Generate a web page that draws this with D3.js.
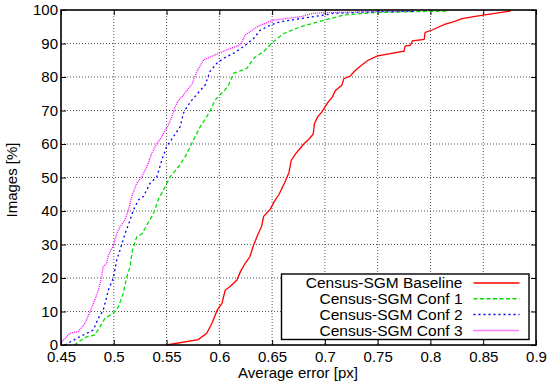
<!DOCTYPE html>
<html>
<head>
<meta charset="utf-8">
<script src="https://cdn.jsdelivr.net/npm/d3@7"></script>
<style>
  body { margin: 0; background: #fff; }
  svg { display: block; font-family: "Liberation Sans", Arial, sans-serif; }
</style>
</head>
<body>
<div id="chart"></div>
<script>
// x = average error [px], y = images [%]
const baselineX = [0.550, 0.580, 0.588, 0.593, 0.598, 0.6025, 0.604, 0.6056, 0.610, 0.6167, 0.620, 0.6245, 0.629, 0.632, 0.6357, 0.640, 0.642, 0.648, 0.653, 0.6566, 0.662, 0.666, 0.668, 0.672, 0.676, 0.680, 0.685, 0.689, 0.690, 0.693, 0.697, 0.700, 0.703, 0.707, 0.710, 0.716, 0.718, 0.724, 0.729, 0.735, 0.741, 0.750, 0.775, 0.776, 0.781, 0.783, 0.794, 0.795, 0.802, 0.814, 0.821, 0.830, 0.841, 0.850, 0.876];
const baselineY = [0, 1.6, 3.5, 6.5, 10.4, 12.4, 14.4, 16.4, 17.4, 19.4, 21.9, 24.4, 26.4, 29.4, 32.4, 35.4, 38.4, 40.4, 43.3, 45, 48.5, 51.5, 55, 57, 58.5, 60, 61.5, 63, 66, 68, 69.5, 71, 72.5, 74, 76, 77.5, 79.5, 80.3, 82, 83.6, 85, 86.3, 87.7, 89.2, 89.5, 90.8, 91.2, 93.3, 94.1, 95.8, 96.4, 97.4, 98, 98.5, 99.7];

const conf1X = [0.4625, 0.4728, 0.482, 0.487, 0.4917, 0.4997, 0.5044, 0.509, 0.512, 0.5155, 0.5177, 0.5218, 0.527, 0.5313, 0.536, 0.539, 0.542, 0.5487, 0.5534, 0.5613, 0.5677, 0.5724, 0.5771, 0.582, 0.588, 0.5914, 0.596, 0.600, 0.605, 0.6087, 0.6135, 0.6262, 0.6325, 0.642, 0.650, 0.661, 0.669, 0.677, 0.700, 0.718, 0.750, 0.817];
const conf1Y = [0, 2.3, 3, 5.5, 8, 9.5, 11.4, 15.4, 20, 23.4, 28.4, 32.3, 33.3, 35.8, 38.3, 40.3, 43.3, 47.3, 50.2, 53.2, 56.2, 59.2, 62.2, 65.2, 68.1, 70, 73.1, 74.5, 76, 77.6, 81.1, 82.6, 85.6, 87.6, 90.2, 93, 94, 95, 97, 98.5, 99.3, 99.7];

const conf2X = [0.4538, 0.465, 0.4744, 0.4807, 0.4854, 0.490, 0.4949, 0.4996, 0.5028, 0.506, 0.5107, 0.5155, 0.5186, 0.5233, 0.528, 0.5344, 0.5408, 0.5455, 0.550, 0.5566, 0.5629, 0.566, 0.5693, 0.574, 0.582, 0.5866, 0.591, 0.5977, 0.604, 0.6135, 0.623, 0.6325, 0.6388, 0.6483, 0.6578, 0.6736, 0.700, 0.708, 0.750, 0.785];
const conf2Y = [0, 2, 3.5, 4.5, 8, 10.4, 16.4, 20, 25.4, 28.4, 33.3, 37.3, 40.3, 43.3, 44.3, 48.3, 50.2, 55.2, 59.2, 62.2, 65.2, 69.2, 71.1, 73.1, 76, 77.6, 81.6, 84.1, 85.6, 87.1, 89.1, 91.5, 94, 95.5, 96.5, 97.3, 98.5, 99, 99.5, 99.6];

const conf3X = [0.4507, 0.4585, 0.4664, 0.4728, 0.4775, 0.482, 0.4854, 0.4886, 0.490, 0.4933, 0.4949, 0.4996, 0.5028, 0.506, 0.5107, 0.5139, 0.517, 0.5218, 0.5265, 0.5313, 0.536, 0.541, 0.5455, 0.5487, 0.5518, 0.555, 0.5582, 0.5613, 0.5645, 0.5708, 0.574, 0.5787, 0.585, 0.596, 0.6072, 0.6198, 0.6245, 0.6357, 0.6514, 0.6641, 0.677, 0.689, 0.700, 0.750, 0.781];
const conf3Y = [1, 3.5, 4, 6.5, 10, 13.4, 16.4, 20.4, 23.4, 24.4, 26.9, 29.6, 33.3, 35.3, 37.5, 40.3, 44.3, 48.3, 50.2, 53.2, 57.2, 60.2, 62.2, 64.2, 65.7, 68.1, 71.1, 73.1, 74, 76.6, 77.8, 81.6, 85.1, 86.6, 88.1, 89.6, 92.5, 95, 97, 97.5, 98, 99, 99.2, 99.5, 99.6];

const seriesNames = ["Census-SGM Baseline", "Census-SGM Conf 1", "Census-SGM Conf 2", "Census-SGM Conf 3"];
const xTicks = [0.45, 0.5, 0.55, 0.6, 0.65, 0.7, 0.75, 0.8, 0.85, 0.9];
const yTicks = [0, 10, 20, 30, 40, 50, 60, 70, 80, 90, 100];

const series = [
  { name: seriesNames[0], xs: baselineX, ys: baselineY, color: "#ff0000", dash: null },
  { name: seriesNames[1], xs: conf1X, ys: conf1Y, color: "#00e000", dash: "4,2.5" },
  { name: seriesNames[2], xs: conf2X, ys: conf2Y, color: "#0000ff", dash: "2,3" },
  { name: seriesNames[3], xs: conf3X, ys: conf3Y, color: "#ff00ff", dash: "1,1" }
];

const W = 550, H = 384;
const margin = { top: 10, right: 14, bottom: 39, left: 61 };
const width = W - margin.left - margin.right;
const height = H - margin.top - margin.bottom;

const svg = d3.select('#chart').append('svg')
  .attr('width', W)
  .attr('height', H);

const g = svg.append('g')
  .attr('transform', `translate(${margin.left},${margin.top})`);

const x = d3.scaleLinear().domain([0.45, 0.9]).range([0, width]);
const y = d3.scaleLinear().domain([0, 100]).range([height, 0]);

// grid
g.append('g').selectAll('line.gx')
  .data(xTicks.slice(1, -1))
  .join('line')
  .attr('x1', d => x(d)).attr('x2', d => x(d))
  .attr('y1', 0).attr('y2', height)
  .attr('stroke', '#555')
  .attr('stroke-width', 1)
  .attr('stroke-dasharray', '1,2');

g.append('g').selectAll('line.gy')
  .data(yTicks.slice(1, -1))
  .join('line')
  .attr('x1', 0).attr('x2', width)
  .attr('y1', d => y(d)).attr('y2', d => y(d))
  .attr('stroke', '#555')
  .attr('stroke-width', 1)
  .attr('stroke-dasharray', '1,2');

// axes (ticks inward, mirrored)
const fmtX = d => String(+d.toFixed(2));
const xAxis = g.append('g')
  .attr('transform', `translate(0,${height})`)
  .call(d3.axisBottom(x).tickValues(xTicks).tickFormat(fmtX).tickSizeInner(-5).tickSizeOuter(0).tickPadding(6));
const yAxis = g.append('g')
  .call(d3.axisLeft(y).tickValues(yTicks).tickSizeInner(-5).tickSizeOuter(0).tickPadding(3));
g.append('g')
  .call(d3.axisTop(x).tickValues(xTicks).tickFormat('').tickSizeInner(-5).tickSizeOuter(0));
g.append('g')
  .attr('transform', `translate(${width},0)`)
  .call(d3.axisRight(y).tickValues(yTicks).tickFormat('').tickSizeInner(-5).tickSizeOuter(0));

g.selectAll('.domain').remove();
g.selectAll('.tick line').attr('stroke', '#000');
xAxis.selectAll('text').attr('font-size', 15).attr('fill', '#000');
yAxis.selectAll('text').attr('font-size', 15).attr('fill', '#000');

// curves
const line = d3.line()
  .x(d => x(d[0]))
  .y(d => y(d[1]));

series.forEach(s => {
  const pts = s.xs.map((v, i) => [v, s.ys[i]]);
  g.append('path')
    .datum(pts)
    .attr('fill', 'none')
    .attr('stroke', s.color)
    .attr('stroke-width', 1.3)
    .attr('stroke-dasharray', s.dash)
    .attr('d', line);
});

// border
g.append('rect')
  .attr('x', 0).attr('y', 0)
  .attr('width', width).attr('height', height)
  .attr('fill', 'none')
  .attr('stroke', '#000')
  .attr('stroke-width', 1.6);

// legend
const legend = g.append('g')
  .attr('transform', `translate(${281.5 - margin.left},${274 - margin.top})`);

legend.append('rect')
  .attr('width', 247.5)
  .attr('height', 65.5)
  .attr('fill', '#fff')
  .attr('stroke', '#000')
  .attr('stroke-width', 1.4);

series.forEach((s, i) => {
  const cy = 9 + i * 15.8;
  legend.append('text')
    .attr('x', 181)
    .attr('y', cy)
    .attr('dy', '0.35em')
    .attr('text-anchor', 'end')
    .attr('font-size', 15.5)
    .text(s.name);
  legend.append('line')
    .attr('x1', 192).attr('x2', 238)
    .attr('y1', cy).attr('y2', cy)
    .attr('stroke', s.color)
    .attr('stroke-width', 1.5)
    .attr('stroke-dasharray', s.dash);
});

// axis labels
svg.append('text')
  .attr('x', 298)
  .attr('y', 378)
  .attr('text-anchor', 'middle')
  .attr('font-size', 15)
  .text('Average error [px]');

svg.append('text')
  .attr('transform', 'translate(17,180) rotate(-90)')
  .attr('text-anchor', 'middle')
  .attr('font-size', 15)
  .text('Images [%]');
</script>
</body>
</html>
